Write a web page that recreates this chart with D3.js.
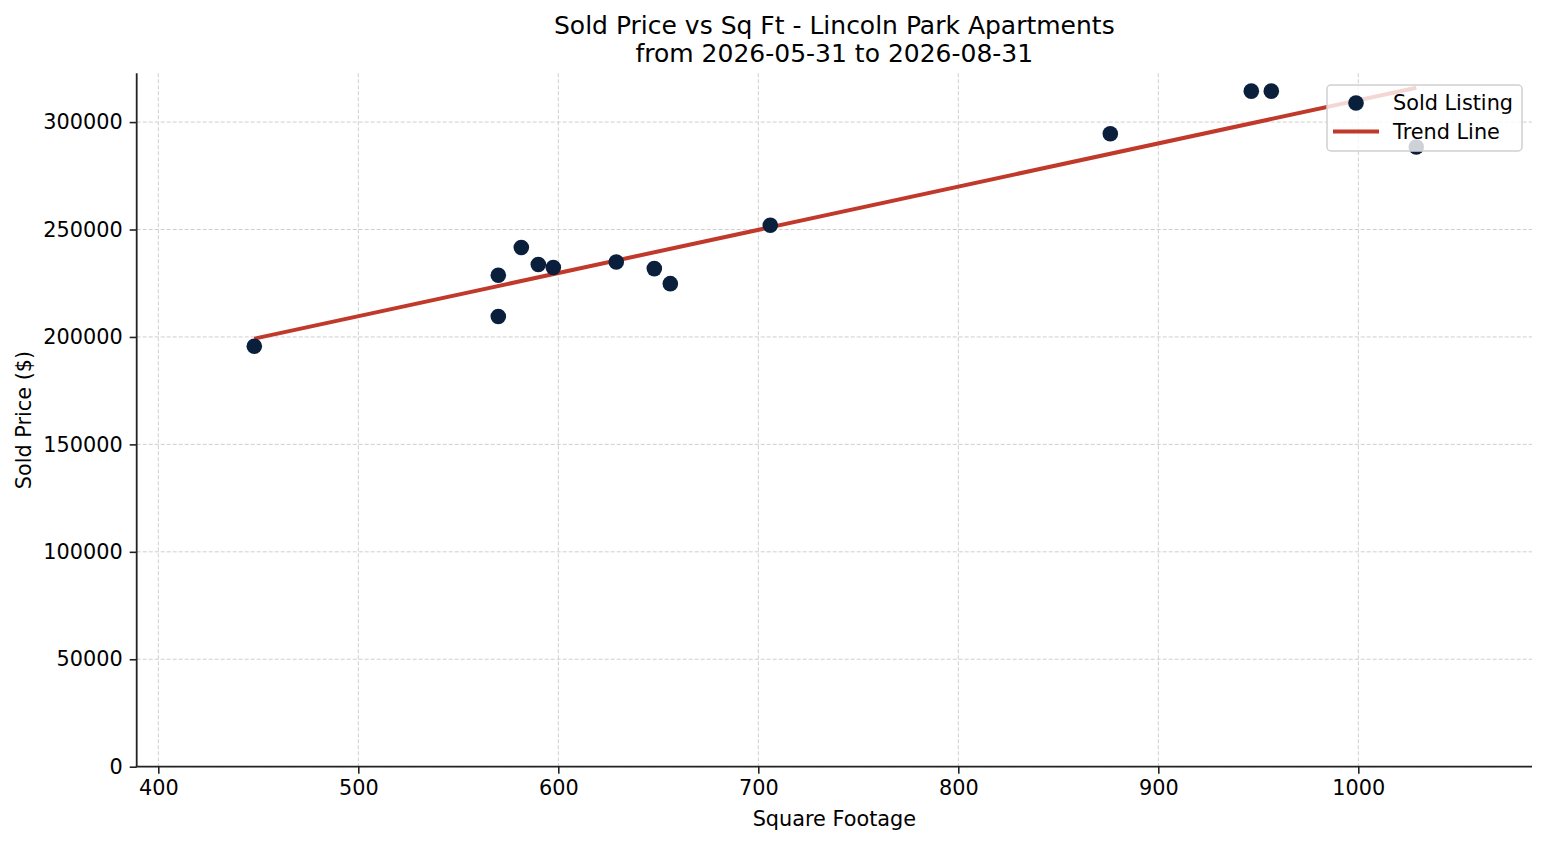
<!DOCTYPE html>
<html>
<head>
<meta charset="utf-8">
<script src="https://cdn.jsdelivr.net/npm/d3@7"></script>
<style>
  html, body { margin: 0; padding: 0; background: #fff; }
  svg { display: block; font-family: "DejaVu Sans", sans-serif; }
</style>
</head>
<body>
<svg id="chart" width="1547" height="845"></svg>
<script>
// ---- data ----
const sqft = [448, 570, 570, 581.5, 590, 597.5, 629, 648, 656, 706, 876, 946.5, 956.5, 1029];
const soldPrice = [195700, 209500, 228700, 241600, 233700, 232300, 234900, 231800, 224800, 252000, 294600, 314400, 314400, 288400];
const trendX = [448, 1029];
const trendY = [199200, 316000];
const xTicks = [400, 500, 600, 700, 800, 900, 1000];
const yTicks = [0, 50000, 100000, 150000, 200000, 250000, 300000];
const titleLines = ["Sold Price vs Sq Ft - Lincoln Park Apartments", "from 2026-05-31 to 2026-08-31"];
const xLabel = "Square Footage";
const yLabel = "Sold Price ($)";
const legendLabels = ["Sold Listing", "Trend Line"];

// ---- layout ----
const W = 1547, H = 845;
const mLeft = 136.7, mRight = 1532, mTop = 73.3, mBottom = 766.7;
const pointColor = "#0a1f3c", trendColor = "#c0392b";
const fs = 20.8, titleFs = 25;

const svg = d3.select("#chart");
svg.append("rect").attr("width", W).attr("height", H).attr("fill", "#fff");

const x = d3.scaleLinear().domain([389.2, 1086.85]).range([mLeft, mRight]);
const y = d3.scaleLinear().domain([0, 322700]).range([mBottom, mTop]);

// grid
const grid = svg.append("g");
grid.selectAll("line.gx").data(xTicks).enter().append("line")
  .attr("x1", d => x(d)).attr("x2", d => x(d)).attr("y1", mTop).attr("y2", mBottom)
  .attr("stroke", "#cfcfcf").attr("stroke-width", 1).attr("stroke-dasharray", "4,2");
grid.selectAll("line.gy").data(yTicks).enter().append("line")
  .attr("x1", mLeft).attr("x2", mRight).attr("y1", d => y(d)).attr("y2", d => y(d))
  .attr("stroke", "#cfcfcf").attr("stroke-width", 1).attr("stroke-dasharray", "4,2");

// axes
const xAxis = svg.append("g").attr("transform", `translate(0,${mBottom})`)
  .call(d3.axisBottom(x).tickValues(xTicks).tickFormat(d3.format("d")).tickSize(7).tickPadding(6));
const yAxis = svg.append("g").attr("transform", `translate(${mLeft},0)`)
  .call(d3.axisLeft(y).tickValues(yTicks).tickFormat(d3.format("d")).tickSize(7).tickPadding(7));
[xAxis, yAxis].forEach(a => {
  a.select(".domain").remove();
  a.selectAll(".tick line").attr("stroke", "#222").attr("stroke-width", 1.6);
  a.selectAll(".tick text").attr("fill", "#000").attr("font-size", fs)
    .attr("font-family", "DejaVu Sans, sans-serif");
});
xAxis.selectAll(".tick text").attr("dy", "0.75em");
// spines
svg.append("line").attr("x1", mLeft).attr("x2", mLeft).attr("y1", mTop).attr("y2", mBottom)
  .attr("stroke", "#222").attr("stroke-width", 1.8);
svg.append("line").attr("x1", mLeft - 0.9).attr("x2", mRight).attr("y1", mBottom).attr("y2", mBottom)
  .attr("stroke", "#222").attr("stroke-width", 1.8);

// trend line
const line = d3.line().x(d => x(d[0])).y(d => y(d[1]));
svg.append("path").datum(trendX.map((v, i) => [v, trendY[i]]))
  .attr("d", line).attr("fill", "none").attr("stroke", trendColor).attr("stroke-width", 4);

// points
svg.append("g").selectAll("circle").data(sqft.map((v, i) => [v, soldPrice[i]])).enter()
  .append("circle").attr("cx", d => x(d[0])).attr("cy", d => y(d[1])).attr("r", 7.8)
  .attr("fill", pointColor);

// title
svg.append("g").selectAll("text").data(titleLines).enter().append("text")
  .attr("x", (mLeft + mRight) / 2).attr("y", (d, i) => 34 + i * 28)
  .attr("text-anchor", "middle").attr("font-size", titleFs).attr("fill", "#000").text(d => d);

// axis labels
svg.append("text").attr("x", (mLeft + mRight) / 2).attr("y", 826)
  .attr("text-anchor", "middle").attr("font-size", fs).attr("fill", "#000").text(xLabel);
svg.append("text").attr("transform", `translate(31,${(mTop + mBottom) / 2}) rotate(-90)`)
  .attr("text-anchor", "middle").attr("font-size", fs).attr("fill", "#000").text(yLabel);

// legend
const lg = svg.append("g");
lg.append("rect").attr("x", 1327).attr("y", 85).attr("width", 195).attr("height", 66)
  .attr("rx", 4).attr("fill", "#fff").attr("fill-opacity", 0.8)
  .attr("stroke", "#d0d0d0").attr("stroke-width", 1.5);
lg.append("circle").attr("cx", 1356).attr("cy", 103).attr("r", 7.8).attr("fill", pointColor);
lg.append("line").attr("x1", 1333).attr("x2", 1379).attr("y1", 131.5).attr("y2", 131.5)
  .attr("stroke", trendColor).attr("stroke-width", 4);
lg.selectAll("text").data(legendLabels).enter().append("text")
  .attr("x", 1393).attr("y", (d, i) => 109.5 + i * 29)
  .attr("font-size", fs).attr("fill", "#000").text(d => d);
</script>
</body>
</html>
